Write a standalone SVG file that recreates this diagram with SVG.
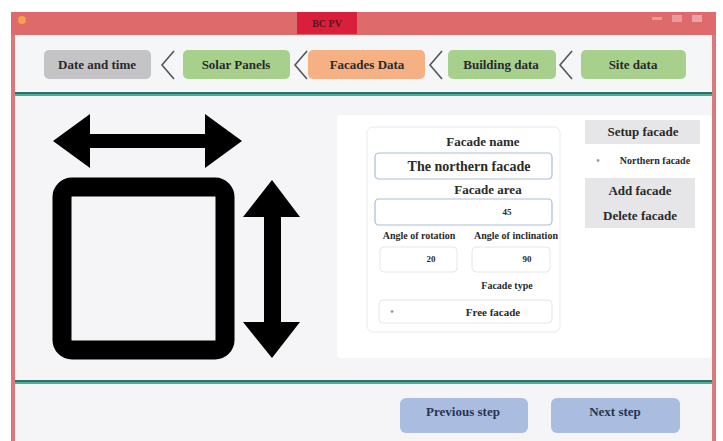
<svg xmlns="http://www.w3.org/2000/svg" width="723" height="441" viewBox="0 0 723 441">
<style>
.t{font-family:"Liberation Serif","Times New Roman",serif;font-weight:bold;fill:#2a2a2a;text-anchor:middle}
.step{font-size:13px}
.lbl{font-size:13px}
.sm{font-size:10px}
.num{font-size:9px}
.box{fill:#ffffff;stroke:#a9bddb;stroke-width:1.2}
.box2{fill:#ffffff;stroke:#e6e6ea;stroke-width:1}
.chev{fill:none;stroke:#555;stroke-width:1.6}
.btn{fill:#e6e6e8}
.nav{fill:#aabde0}
.navt{font-size:13px;fill:#2a3450}
</style>
<rect x="0" y="0" width="723" height="441" fill="#ffffff"/>
<g id="window">
<rect x="11" y="12" width="705" height="440" fill="#f5f4f6"/>
<rect x="11" y="12" width="705" height="23" fill="#de6a6b"/>
<rect x="297" y="12" width="60" height="22" fill="#d91f3c"/>
<text class="t" x="327" y="27" font-size="10" style="fill:#5a1418">BC PV</text>
<circle cx="22" cy="20" r="4" fill="#f3a24a"/>
<rect x="652" y="17" width="10" height="3" fill="#e99a9c"/>
<rect x="672" y="15" width="10" height="7" fill="#e99a9c"/>
<rect x="692" y="15" width="10" height="7" fill="#eca2a4"/>
<rect x="11" y="35" width="4" height="406" fill="#d9797b"/>
<rect x="712" y="35" width="4" height="406" fill="#d9797b"/>
<rect x="15" y="35" width="697" height="58" fill="#f4f6f7"/>
<rect x="15" y="92" width="697" height="2" fill="#2f6f66"/>
<rect x="15" y="94" width="697" height="2" fill="#46b09a"/>
<rect x="15" y="380" width="697" height="2" fill="#2f6f66"/>
<rect x="15" y="382" width="697" height="2" fill="#46b09a"/>
</g>
<g id="step-date">
<rect x="44" y="50" width="107" height="29" rx="5" fill="#c4c4c6"/>
<text class="t step" x="97" y="69">Date and time</text>
</g>
<g id="step-solar">
<rect x="183" y="50" width="107" height="29" rx="5" fill="#a8d08d"/>
<text class="t step" x="236" y="69">Solar Panels</text>
</g>
<g id="step-facades">
<rect x="308" y="50" width="117" height="29" rx="5" fill="#f5b183"/>
<text class="t step" x="367" y="69">Facades Data</text>
</g>
<g id="step-building">
<rect x="448" y="50" width="108" height="29" rx="5" fill="#a8d08d"/>
<text class="t step" x="501" y="69">Building data</text>
</g>
<g id="step-site">
<rect x="581" y="50" width="105" height="29" rx="5" fill="#a8d08d"/>
<text class="t step" x="633" y="69">Site data</text>
</g>
<g id="connectors">
<path class="chev" d="M174 51 L162 65 L174 79"/>
<path class="chev" d="M307 51 L295 65 L307 79"/>
<path class="chev" d="M442 51 L430 65 L442 79"/>
<path class="chev" d="M572 51 L560 65 L572 79"/>
</g>
<g id="icon">
<polygon points="53,141 90,114 90,134 205,134 205,114 242,141 205,168 205,148 90,148 90,168" fill="#000"/>
<rect x="62" y="187" width="163" height="163" rx="10" fill="none" stroke="#000" stroke-width="19"/>
<polygon points="272,180 300,217 281,217 281,322 300,322 272,358 243,322 264,322 264,217 243,217" fill="#000"/>
</g>
<g id="panel">
<rect x="337" y="115" width="375" height="243" rx="4" fill="#ffffff"/>
<rect x="367" y="127" width="193" height="205" rx="6" fill="#ffffff" stroke="#e8eaf0" stroke-width="1"/>
</g>
<g id="facade-name">
<text class="t lbl" x="483" y="146">Facade name</text>
<rect class="box" x="375" y="153" width="177" height="26" rx="4"/>
<text class="t" x="469" y="171" font-size="14">The northern facade</text>
</g>
<g id="facade-area">
<text class="t lbl" x="488" y="194">Facade area</text>
<rect class="box" x="375" y="199" width="177" height="26" rx="4"/>
<text class="t num" x="507" y="215">45</text>
</g>
<g id="angle-rotation">
<text class="t sm" x="419" y="239">Angle of rotation</text>
<rect class="box2" x="380" y="247" width="77" height="25" rx="4"/>
<text class="t num" x="431" y="262">20</text>
</g>
<g id="angle-inclination">
<text class="t sm" x="516" y="239">Angle of inclination</text>
<rect class="box2" x="472" y="247" width="78" height="25" rx="4"/>
<text class="t num" x="527" y="262">90</text>
</g>
<g id="facade-type">
<text class="t sm" x="507" y="289">Facade type</text>
<rect class="box2" x="379" y="300" width="173" height="23" rx="4"/>
<text class="t sm" x="392" y="315" style="fill:#999">•</text>
<text class="t" x="493" y="316" font-size="11">Free facade</text>
</g>
<g id="setup-facade">
<rect class="btn" x="585" y="120" width="115" height="24"/>
<text class="t step" x="643" y="136">Setup facade</text>
</g>
<g id="northern-facade">
<text class="t sm" x="598" y="164" style="fill:#999">•</text>
<text class="t sm" x="655" y="164">Northern facade</text>
</g>
<g id="add-facade">
<rect class="btn" x="585" y="178" width="110" height="25"/>
<text class="t step" x="640" y="195">Add facade</text>
</g>
<g id="delete-facade">
<rect class="btn" x="585" y="203" width="110" height="25"/>
<text class="t step" x="640" y="220">Delete facade</text>
</g>
<g id="previous-step">
<rect class="nav" x="400" y="398" width="128" height="35" rx="6"/>
<text class="t navt" x="463" y="416">Previous step</text>
</g>
<g id="next-step">
<rect class="nav" x="551" y="398" width="129" height="35" rx="6"/>
<text class="t navt" x="615" y="416">Next step</text>
</g>
</svg>
